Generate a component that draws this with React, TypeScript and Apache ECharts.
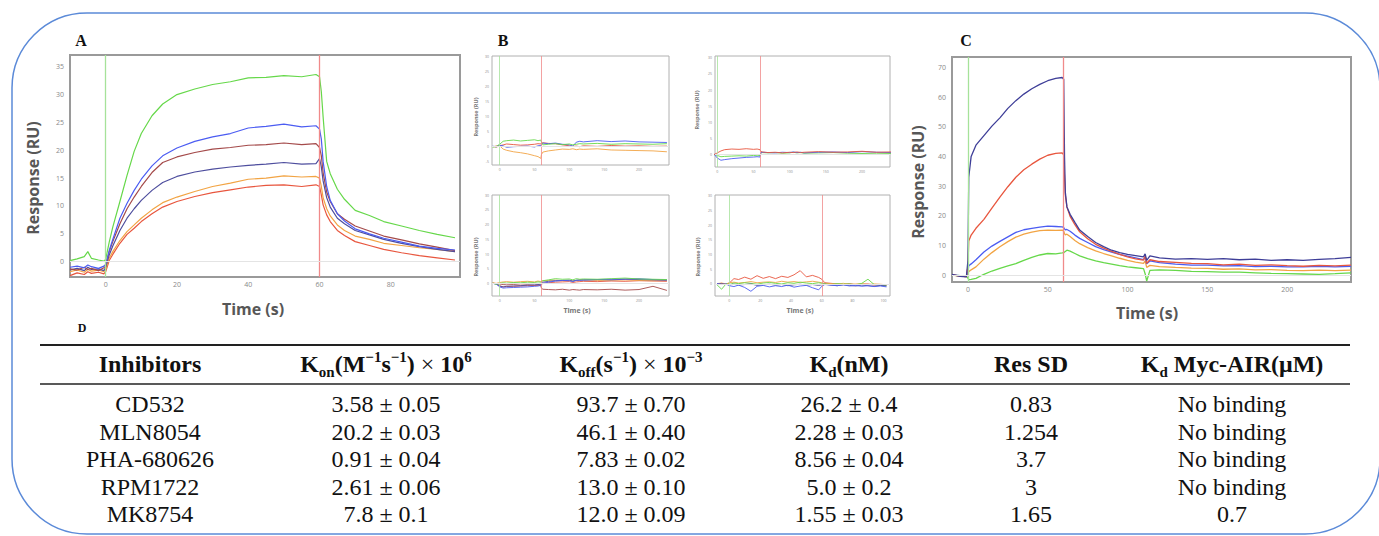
import React, { useEffect, useRef } from "react";
import * as echarts from "echarts";

// ---------- Panel A (sensorgram, seconds / RU) ----------
const timeA = [-10, -8, -6, -5, -4, -2, -0.5, 0, 1, 2, 4, 6, 8, 10, 13, 16, 20, 25, 30, 35, 40, 45, 50, 55, 59, 60, 60.5, 61, 62, 63, 65, 67, 70, 74, 78, 83, 88, 93, 98];
const aGreen = [0.2, 0.5, 0.9, 1.8, 0.6, 0.3, 0.1, 0.4, 3.5, 6.2, 10.8, 15.5, 19.8, 23.0, 26.2, 28.3, 30.0, 31.0, 31.8, 32.3, 33.0, 33.1, 33.4, 33.2, 33.6, 33.2, 30.5, 26.0, 18.0, 15.8, 13.0, 11.2, 9.2, 8.3, 7.2, 6.4, 5.6, 4.9, 4.3];
const aBlue = [-1.0, -0.8, -1.1, -0.6, -0.9, -1.2, -0.8, -0.5, 2.0, 4.0, 7.8, 10.5, 12.8, 14.8, 17.2, 19.0, 20.4, 21.6, 22.4, 23.0, 24.0, 24.3, 24.7, 24.2, 24.4, 23.8, 22.0, 18.0, 13.5, 11.0, 8.6, 7.3, 5.9, 5.0, 4.2, 3.5, 2.8, 2.4, 2.1];
const aBrown = [-1.3, -1.5, -1.0, -1.4, -1.2, -1.6, -1.1, -0.8, 1.8, 3.6, 6.8, 9.5, 11.6, 13.5, 16.0, 17.8, 18.8, 19.6, 20.2, 20.5, 20.9, 21.0, 21.3, 21.0, 21.2, 20.5, 19.0, 16.0, 12.5, 10.8, 8.6, 7.6, 6.4, 5.5, 4.6, 3.9, 3.2, 2.6, 2.0];
const aNavy = [-1.5, -1.2, -1.6, -1.0, -1.4, -1.3, -1.6, -1.0, 1.2, 2.8, 5.6, 7.8, 9.5, 11.0, 12.8, 14.2, 15.3, 16.1, 16.6, 17.0, 17.3, 17.5, 17.8, 17.5, 17.6, 18.5, 17.0, 14.5, 11.5, 9.8, 7.8, 6.8, 5.6, 4.8, 4.0, 3.3, 2.7, 2.2, 1.8];
const aOrange = [-1.8, -1.5, -1.9, -1.4, -1.7, -1.5, -1.8, -1.4, 0.6, 1.8, 3.8, 5.4, 6.6, 7.8, 9.3, 10.6, 11.6, 12.6, 13.5, 14.1, 14.8, 15.0, 15.4, 15.2, 15.3, 15.0, 13.5, 11.5, 9.5, 8.2, 6.6, 5.6, 4.6, 4.0, 3.3, 2.9, 2.5, 2.2, 1.8];
const aRed = [-2.5, -2.0, -2.3, -1.8, -2.1, -1.9, -2.2, -1.8, 0.2, 1.3, 3.3, 4.9, 6.0, 7.2, 8.6, 9.8, 10.8, 11.7, 12.4, 12.9, 13.4, 13.7, 13.8, 13.5, 13.8, 13.5, 12.0, 10.2, 8.4, 7.2, 5.6, 4.7, 3.6, 2.9, 2.2, 1.6, 1.1, 0.7, 0.3];
const ticksAY = [0, 5, 10, 15, 20, 25, 30, 35];
const ticksAX = [0, 20, 40, 60, 80];

// ---------- Panel B (four controls) ----------
const timeB = [-10, -5, 0, 5, 10, 20, 30, 40, 50, 55, 59, 60, 62, 70, 80, 90, 100, 105, 110, 115, 120, 140, 160, 180, 200, 220, 240];
const tlGreen = [-0.2, 0.1, 0.8, 1.8, 2.0, 2.2, 1.9, 2.1, 2.3, 2.0, 2.2, 1.5, 0.6, 0.8, 1.0, 0.7, 0.9, 0.6, 0.8, 1.0, 0.9, 1.1, 0.8, 1.0, 0.9, 0.8, 1.0];
const tlBlue = [0.2, -0.1, 0.5, 0.3, -0.2, 0.0, 0.1, 0.2, -0.1, 0.3, 0.4, 0.8, 1.2, 1.0, 1.2, 0.8, 0.6, 0.2, 1.5, 1.8, 1.6, 2.0, 1.7, 1.9, 1.6, 1.5, 1.4];
const tlRed = [0.0, 0.2, 0.3, 0.6, 0.9, 0.7, 0.5, 0.6, 0.8, 1.0, 0.9, 1.2, 1.3, 1.1, 1.0, 0.6, 0.3, 0.1, 0.2, 0.0, 0.3, 0.1, 0.4, 0.2, 0.3, 0.1, 0.2];
const tlOrange = [0.1, -0.2, 0.3, -0.8, -1.2, -1.7, -2.0, -2.4, -3.0, -3.3, -3.9, -2.6, -1.8, -1.4, -1.1, -0.8, -0.9, -0.7, -1.0, -0.8, -0.9, -0.7, -1.1, -1.2, -1.3, -1.4, -1.7];
const trRed = [0.1, -0.2, 0.4, 1.0, 1.4, 1.6, 1.5, 1.7, 1.5, 1.6, 1.4, 0.9, 0.7, 0.5, 0.6, 0.4, 0.6, 0.5, 0.7, 0.5, 0.6, 0.8, 0.6, 0.7, 0.9, 0.6, 0.7];
const trBlue = [-0.1, 0.2, -1.2, -1.9, -1.7, -1.4, -1.2, -1.0, -0.9, -0.8, -0.9, 0.4, 0.6, 0.5, 0.4, 0.6, 0.5, 0.7, 0.5, 0.6, 0.4, 0.6, 0.7, 0.5, 0.8, 0.6, 0.5];
const trGreen = [0.0, -0.1, -0.4, -0.8, -0.7, -0.6, -0.5, -0.6, -0.4, -0.5, -0.4, 0.3, 0.5, 0.4, 0.5, 0.3, 0.4, 0.6, 0.4, 0.5, 0.3, 0.4, 0.5, 0.3, 0.2, 0.3, 0.2];
const blGreen = [0.1, -0.3, 0.0, 0.2, 0.1, 0.3, 0.2, 0.4, 0.3, 0.5, 0.4, 0.6, 0.9, 1.2, 1.6, 1.4, 1.5, 1.2, 1.6, 1.4, 1.5, 1.4, 1.6, 1.8, 1.5, 1.4, 1.3];
const blBlue = [0.0, -0.2, -1.2, -1.6, -1.5, -1.4, -1.3, -1.2, -1.0, -0.9, -0.7, -0.3, 0.0, 0.4, 0.8, 1.0, 0.9, 0.6, 1.1, 1.0, 1.2, 1.3, 1.4, 1.5, 1.6, 1.3, 1.2];
const blRed = [0.1, -0.1, -0.8, -1.2, -1.1, -1.0, -0.9, -0.8, -0.7, -0.6, -0.5, -0.3, 0.0, 0.2, 0.4, 0.5, 0.6, 0.3, 0.5, 0.6, 0.7, 0.6, 0.8, 0.7, 0.9, 0.8, 0.7];
const blOrange = [0.2, 0.0, 0.3, 0.5, 0.6, 0.4, 0.6, 0.7, 0.5, 0.8, 0.6, 0.7, 0.9, 1.0, 1.1, 0.9, 1.0, 0.8, 1.0, 1.1, 1.2, 1.0, 1.1, 1.2, 1.0, 0.9, 1.0];
const blBrown = [0.0, -0.1, -0.2, -0.4, -0.5, -0.4, -0.6, -0.5, -0.7, -0.6, -0.8, -1.6, -2.0, -2.1, -2.2, -2.0, -2.3, -2.1, -2.2, -2.3, -2.1, -2.2, -2.0, -2.3, -2.1, -1.0, -2.4];
const blNavy = [0.0, -0.2, -0.9, -1.2, -1.0, -0.9, -0.8, -0.6, -0.5, -0.4, -0.3, 0.2, 0.4, 0.7, 0.9, 1.0, 1.1, 0.8, 1.0, 1.2, 1.1, 1.3, 1.2, 1.4, 1.3, 1.2, 1.1];
const timeBR = [-8, -5, -2, 0, 3, 6, 10, 14, 18, 22, 26, 30, 34, 38, 42, 46, 50, 54, 58, 60, 62, 66, 70, 74, 78, 82, 86, 90, 94, 98, 102];
const brRed = [0.0, 0.2, -0.1, 0.3, 1.8, 1.5, 2.3, 1.6, 2.8, 1.9, 2.5, 1.8, 2.6, 2.2, 3.1, 4.5, 2.4, 2.9, 2.2, 1.6, 0.4, 0.2, 0.0, -0.2, 0.1, -0.3, -0.1, 0.0, -0.4, -0.2, -0.5];
const brOrange = [0.1, 0.3, 0.0, 0.4, 0.6, 0.3, 0.5, 0.8, 0.4, 0.6, 0.7, 0.5, 0.9, 0.6, 0.8, 0.5, 0.7, 0.9, 0.6, 0.4, 0.2, 0.1, 0.0, 0.2, -0.1, 0.0, 0.1, -0.2, 0.0, -0.1, -0.3];
const brGreen = [-0.3, -1.8, 0.1, -0.2, 0.3, 0.1, 0.4, 0.2, -0.1, 0.3, 0.5, 0.2, 0.0, 0.4, 0.2, 0.6, 0.3, 0.1, 0.4, 0.2, 0.0, -0.2, 0.1, -0.1, 0.0, -0.3, 0.2, 1.6, -0.2, -0.4, -0.6];
const brBlue = [0.1, -0.2, 0.0, -0.6, -0.9, -0.4, -1.2, -2.5, -0.8, -0.5, -1.0, -0.6, -0.9, -0.4, -1.1, -0.7, -0.5, -1.3, -2.0, -0.8, -0.2, -0.4, -0.6, -0.3, -0.7, -0.5, -0.8, -0.6, -0.9, -0.7, -1.0];
const brNavy = [0.0, 0.1, -0.2, -0.3, -0.1, -0.4, -0.2, 0.0, -0.5, -0.3, -0.1, -0.4, -0.2, -0.6, -0.3, -0.1, -0.4, -0.2, -0.5, -0.3, -0.1, -0.4, -0.6, -0.3, -0.5, -0.7, -0.4, -0.6, -0.8, -0.5, -0.7];
const ticksBY = [-5, 0, 5, 10, 15, 20, 25, 30];
const ticksBX = [0, 50, 100, 150, 200];
const ticksBRX = [0, 20, 40, 60, 80, 100];

// ---------- Panel C ----------
const timeC = [-10, -5, -1, 0, 0.5, 2, 5, 10, 15, 20, 25, 30, 35, 40, 45, 50, 55, 59, 60, 60.5, 61, 62, 64, 67, 70, 75, 80, 85, 90, 95, 100, 105, 110, 111, 112, 114, 120, 130, 140, 150, 160, 170, 180, 190, 200, 210, 220, 230, 240];
const cNavy = [0.3, -0.4, -0.6, 5, 33, 40, 43.8, 47, 50.2, 53, 56.2, 58.8, 61, 62.8, 64.3, 65.5, 66.3, 66.6, 66, 40, 28, 23, 20.5, 17.8, 15.2, 13, 11, 9.6, 8.4, 7.6, 7.0, 6.6, 6.2, 7.2, 5.0, 6.5, 5.8, 5.4, 5.6, 5.3, 5.6, 5.2, 5.4, 5.0, 5.2, 5.0, 5.3, 5.6, 6.0];
const cRed = [0.2, -0.3, -0.5, 3, 11.5, 13.5, 15.8, 18.8, 22.6, 26.3, 29.8, 33, 35.5, 37.4, 39.1, 40.4, 41.0, 41.2, 40.5, 33, 27, 23, 19.8, 17, 14.6, 12.3, 10.4, 9.1, 8.0, 7.0, 6.2, 5.5, 5.1, 6.5, 4.0, 5.2, 4.6, 4.3, 4.0, 3.9, 3.5, 3.7, 3.3, 3.5, 3.2, 3.0, 3.3, 3.1, 3.4];
const cBlue = [0.1, -0.2, -0.4, 1.5, 3.2, 3.8, 5.2, 7.8, 9.8, 11.4, 12.9, 14.4, 15.3, 15.8, 16.2, 16.5, 16.4, 16.3, 16.0, 15.6, 15.3, 15.4, 14.8, 13.5, 12.4, 11.0, 9.6, 8.6, 7.8, 7.0, 6.4, 5.8, 5.2, 6.0, 3.8, 4.8, 4.2, 3.7, 3.4, 3.4, 3.1, 3.2, 2.9, 3.0, 2.8, 2.8, 3.0, 2.8, 3.0];
const cOrange = [0, -0.3, -0.5, 0.5, 1.2, 1.8, 2.8, 5.4, 7.6, 9.6, 11.3, 12.8, 13.8, 14.5, 15.0, 15.2, 15.1, 15.2, 14.8, 14.0, 13.6, 13.8, 13.0, 11.7, 10.6, 9.3, 8.2, 7.3, 6.5, 5.7, 5.0, 4.4, 4.0, 4.8, 2.6, 3.3, 2.9, 2.6, 2.4, 2.3, 2.0, 2.1, 1.8, 1.9, 1.6, 1.5, 1.7, 1.5, 1.7];
const cGreen = [0, -0.2, -0.4, -1.0, -1.5, -1.4, -1.1, 0.3, 1.4, 2.3, 3.1, 3.9, 5.0, 6.0, 6.8, 7.3, 7.2, 7.5, 7.6, 7.8, 8.0, 8.4, 8.1, 7.3, 6.5, 5.6, 4.8, 4.2, 3.7, 3.2, 2.8, 2.5, 2.2, 0.5, -2.0, 1.6, 1.8, 1.6, 1.3, 1.2, 1.0, 1.0, 0.8, 0.6, 0.5, 0.4, 0.3, 0.5, 0.8];
const ticksCY = [0, 10, 20, 30, 40, 50, 60, 70];
const ticksCX = [0, 50, 100, 150, 200];

const injectionStart = 0;
const injectionEnd = 60;

// ---------- Table D ----------
const tableHeaders = [
  "{b|Inhibitors}",
  "{b|K}{bs|on}{b|(M}{bp|−1}{b|s}{bp|−1}{b|)}{m| × }{b|10}{bp|6}",
  "{b|K}{bs|off}{b|(s}{bp|−1}{b|)}{m| × }{b|10}{bp|−3}",
  "{b|K}{bs|d}{b|(nM)}",
  "{b|Res SD}",
  "{b|K}{bs|d}{b| Myc-AIR(μM)}",
];
const inhibitors = ["CD532", "MLN8054", "PHA-680626", "RPM1722", "MK8754"];
const konValues = ["3.58 ± 0.05", "20.2 ± 0.03", "0.91 ± 0.04", "2.61 ± 0.06", "7.8 ± 0.1"];
const koffValues = ["93.7 ± 0.70", "46.1 ± 0.40", "7.83 ± 0.02", "13.0 ± 0.10", "12.0 ± 0.09"];
const kdValues = ["26.2 ± 0.4", "2.28 ± 0.03", "8.56 ± 0.04", "5.0 ± 0.2", "1.55 ± 0.03"];
const resSD = ["0.83", "1.254", "3.7", "3", "1.65"];
const kdMycAir = ["No binding", "No binding", "No binding", "No binding", "0.7"];

const COL = {
  green: "#66d84a",
  blue: "#4b5cf2",
  brown: "#a44a4a",
  navy: "#4e4e9e",
  orange: "#f2a444",
  red: "#e8563e",
};

const SANS = "'Open Sans', 'Liberation Sans', sans-serif";
const SERIF = "'Liberation Serif', 'DejaVu Serif', serif";

function buildOption(): any {
  const grids = [
    { left: 70, top: 55, width: 390, height: 222 },
    { left: 492, top: 56, width: 177, height: 109 },
    { left: 715, top: 56, width: 175, height: 111 },
    { left: 492, top: 195, width: 177, height: 101 },
    { left: 715, top: 195, width: 175, height: 101 },
    { left: 952, top: 57, width: 399, height: 225 },
  ].map((g, i) => ({
    ...g,
    show: true,
    borderColor: i === 0 || i === 5 ? "#9a9a9a" : "#b0b0b0",
    borderWidth: i === 0 || i === 5 ? 2 : 1,
    backgroundColor: "transparent",
  }));

  const xr = [
    [-10, 99.4, ticksAX, 7, 4],
    [-11, 243, ticksBX, 3.5, 2],
    [-3.2, 238.7, ticksBX, 3.5, 2],
    [-11, 243, ticksBX, 3.5, 2],
    [-9.3, 104.3, ticksBRX, 3.5, 2],
    [-10, 240, ticksCX, 7, 4],
  ];
  const yr = [
    [-2.75, 37.1, ticksAY, 7, 6],
    [-6.1, 30.2, ticksBY, 3.5, 3],
    [-4, 30.6, ticksBY, 3.5, 3],
    [-4.3, 30.1, ticksBY.filter((v) => v >= 0), 3.5, 3],
    [-4.1, 30.2, ticksBY.filter((v) => v >= 0), 3.5, 3],
    [-2.3, 73.5, ticksCY, 7, 6],
  ];
  const xAxis = xr.map((r: any, i) => ({
    type: "value",
    gridIndex: i,
    min: r[0],
    max: r[1],
    splitLine: { show: false },
    axisLine: { show: false },
    axisTick: { show: false },
    axisLabel: { customValues: r[2], fontSize: r[3], color: "#8a8a8a", margin: r[4], fontFamily: SANS },
  }));
  const yAxis = yr.map((r: any, i) => ({
    type: "value",
    gridIndex: i,
    min: r[0],
    max: r[1],
    splitLine: { show: false },
    axisLine: { show: false },
    axisTick: { show: false },
    axisLabel: { customValues: r[2], fontSize: r[3], color: "#8a8a8a", margin: r[4], fontFamily: SANS },
  }));

  const marks = (w: number) => ({
    symbol: ["none", "none"],
    silent: true,
    animation: false,
    label: { show: false },
    data: [
      { xAxis: injectionStart, lineStyle: { color: "#a6e29a", width: w, type: "solid" } },
      { xAxis: injectionEnd, lineStyle: { color: "#f08a8a", width: w, type: "solid" } },
      { yAxis: 0, lineStyle: { color: "#e4e4e4", width: 1, type: "solid" } },
    ],
  });

  const series: any[] = [];
  const add = (grid: number, t: number[], v: number[], color: string, width: number, withMarks = false) => {
    series.push({
      type: "line",
      xAxisIndex: grid,
      yAxisIndex: grid,
      data: t.map((x, i) => [x, v[i]]),
      symbol: "none",
      showSymbol: false,
      silent: true,
      clip: true,
      lineStyle: { color, width },
      markLine: withMarks ? marks(grid === 0 || grid === 5 ? 1.3 : 0.8) : undefined,
    });
  };

  // A
  add(0, timeA, aRed, COL.red, 1.2, true);
  add(0, timeA, aOrange, COL.orange, 1.2);
  add(0, timeA, aNavy, COL.navy, 1.2);
  add(0, timeA, aBrown, COL.brown, 1.2);
  add(0, timeA, aBlue, COL.blue, 1.2);
  add(0, timeA, aGreen, COL.green, 1.2);
  // B
  add(1, timeB, tlOrange, COL.orange, 0.9, true);
  add(1, timeB, tlRed, COL.red, 0.9);
  add(1, timeB, tlBlue, COL.blue, 0.9);
  add(1, timeB, tlGreen, COL.green, 0.9);
  add(2, timeB, trGreen, COL.green, 0.9, true);
  add(2, timeB, trBlue, COL.blue, 0.9);
  add(2, timeB, trRed, COL.red, 0.9);
  add(3, timeB, blBrown, COL.brown, 0.9, true);
  add(3, timeB, blRed, COL.red, 0.9);
  add(3, timeB, blOrange, COL.orange, 0.9);
  add(3, timeB, blNavy, COL.navy, 0.9);
  add(3, timeB, blBlue, COL.blue, 0.9);
  add(3, timeB, blGreen, COL.green, 0.9);
  add(4, timeBR, brRed, COL.red, 0.9, true);
  add(4, timeBR, brOrange, COL.orange, 0.9);
  add(4, timeBR, brGreen, COL.green, 0.9);
  add(4, timeBR, brNavy, COL.navy, 0.9);
  add(4, timeBR, brBlue, COL.blue, 0.9);
  // C
  add(5, timeC, cGreen, COL.green, 1.3, true);
  add(5, timeC, cOrange, COL.orange, 1.3);
  add(5, timeC, cBlue, COL.blue, 1.3);
  add(5, timeC, cRed, COL.red, 1.3);
  add(5, timeC, cNavy, "#3e3e98", 1.3);

  const txt = (x: number, y: number, text: string, size: number, opts: any = {}) => ({
    type: "text",
    x,
    y,
    rotation: opts.rotation || 0,
    silent: true,
    style: {
      text,
      fontSize: size,
      fontFamily: opts.family || SANS,
      fontWeight: opts.weight || "normal",
      fill: opts.color || "#111",
      textAlign: opts.align || "center",
      textVerticalAlign: "middle",
    },
  });
  const up = Math.PI / 2;

  const graphics: any[] = [
    {
      type: "rect",
      silent: true,
      shape: { x: 12, y: 13, width: 1368, height: 521, r: 75 },
      style: { fill: "none", stroke: "#5b8ad8", lineWidth: 1.5 },
    },
    txt(81, 40, "A", 16, { family: SERIF, weight: "bold" }),
    txt(503, 40, "B", 16, { family: SERIF, weight: "bold" }),
    txt(966, 40, "C", 16, { family: SERIF, weight: "bold" }),
    txt(82, 328, "D", 12, { family: SERIF, weight: "bold" }),
    txt(33, 178, "Response (RU)", 16, { weight: "bold", color: "#575757", rotation: up }),
    txt(253, 309, "Time (s)", 16, { weight: "bold", color: "#575757" }),
    txt(918, 182, "Response (RU)", 16, { weight: "bold", color: "#575757", rotation: up }),
    txt(1147, 313, "Time (s)", 16, { weight: "bold", color: "#575757" }),
    txt(476, 117, "Response (RU)", 5.5, { weight: "bold", color: "#777", rotation: up }),
    txt(697, 110, "Response (RU)", 5.5, { weight: "bold", color: "#777", rotation: up }),
    txt(476, 257, "Response (RU)", 5.5, { weight: "bold", color: "#777", rotation: up }),
    txt(698, 257, "Response (RU)", 5.5, { weight: "bold", color: "#777", rotation: up }),
    txt(577, 310, "Time (s)", 7, { weight: "bold", color: "#777" }),
    txt(800, 310, "Time (s)", 7, { weight: "bold", color: "#777" }),
    { type: "line", silent: true, shape: { x1: 40, y1: 345, x2: 1350, y2: 345 }, style: { stroke: "#222", lineWidth: 2 } },
    { type: "line", silent: true, shape: { x1: 40, y1: 384, x2: 1350, y2: 384 }, style: { stroke: "#222", lineWidth: 1.3 } },
  ];

  const colX = [150, 386, 631, 849, 1031, 1232];
  const headerY = 364;
  const rowY = [404, 431.5, 459, 486.5, 514];
  const rich = {
    b: { fontFamily: SERIF, fontWeight: "bold", fontSize: 24, lineHeight: 30, fill: "#111" },
    m: { fontFamily: SERIF, fontWeight: "normal", fontSize: 24, lineHeight: 30, fill: "#111" },
    bs: { fontFamily: SERIF, fontWeight: "bold", fontSize: 15, lineHeight: 12, verticalAlign: "bottom", fill: "#111" },
    bp: { fontFamily: SERIF, fontWeight: "bold", fontSize: 15, lineHeight: 16, verticalAlign: "top", fill: "#111" },
  };
  tableHeaders.forEach((h, i) => {
    graphics.push({
      type: "text",
      x: colX[i],
      y: headerY,
      silent: true,
      style: { text: h, rich, textAlign: "center", textVerticalAlign: "middle", fontFamily: SERIF, fontSize: 24 },
    });
  });
  const cols = [inhibitors, konValues, koffValues, kdValues, resSD, kdMycAir];
  cols.forEach((col, ci) => {
    col.forEach((v, ri) => {
      graphics.push(txt(colX[ci], rowY[ri], v, 24, { family: SERIF, color: "#111" }));
    });
  });

  return {
    animation: false,
    backgroundColor: "#ffffff",
    grid: grids,
    xAxis,
    yAxis,
    series,
    graphic: { elements: graphics },
  };
}

export default function App() {
  const ref = useRef<HTMLDivElement>(null);
  useEffect(() => {
    if (!ref.current) return;
    const chart = echarts.init(ref.current, null, { renderer: "svg" });
    chart.setOption(buildOption());
    return () => chart.dispose();
  }, []);
  return (
    <div
      ref={ref}
      style={{ position: "fixed", left: 0, top: 0, width: 1379, height: 536, background: "#fff" }}
    />
  );
}
